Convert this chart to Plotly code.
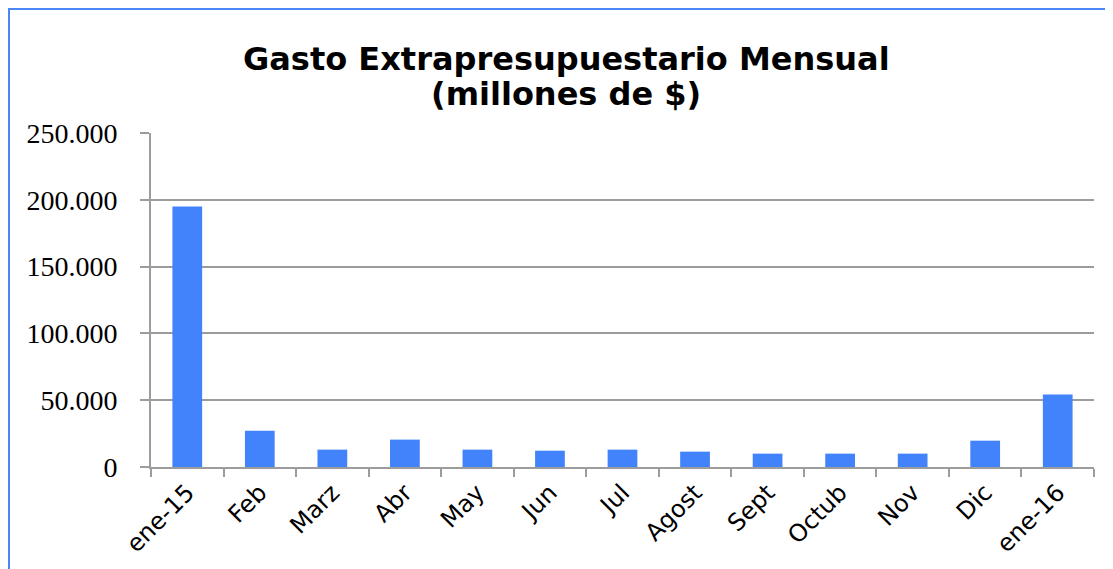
import plotly.graph_objects as go

categories = ["ene-15", "Feb", "Marz", "Abr", "May", "Jun", "Jul", "Agost", "Sept", "Octub", "Nov", "Dic", "ene-16"]
values = [195000, 27200, 13000, 20500, 13000, 12200, 13000, 11500, 10000, 10000, 10000, 19700, 54200]
y_ticks = [0, 50000, 100000, 150000, 200000, 250000]
y_tick_labels = ["0", "50.000", "100.000", "150.000", "200.000", "250.000"]
title_lines = ["Gasto Extrapresupuestario Mensual", "(millones de $)"]

# page body has an 8px margin, so the figure is drawn 8px smaller and offset
W, H = 1105, 561
L, R, T, B = 143, 19, 125, 102
pw, ph = W - L - R, H - T - B

fig = go.Figure(go.Bar(x=categories, y=values, marker=dict(color="#4283fb", line=dict(width=0))))

border = "#4a86f7"
fig.add_shape(type="line", xref="paper", yref="paper",
              x0=(0 - L) / pw, x1=(W - L) / pw, y0=1 + (T - 1) / ph, y1=1 + (T - 1) / ph,
              line=dict(color=border, width=2))
fig.add_shape(type="line", xref="paper", yref="paper",
              x0=(1 - L) / pw, x1=(1 - L) / pw, y0=1 + (T - 1) / ph, y1=-(B + 5) / ph,
              line=dict(color=border, width=2))

for i, (txt, yc) in enumerate(zip(title_lines, [51, 86])):
    fig.add_annotation(text=txt, xref="paper", yref="paper",
                       x=(558 - L) / pw, xanchor="center",
                       y=1 + (T - yc) / ph, yanchor="middle", showarrow=False,
                       font=dict(family="DejaVu Sans", size=32, color="black", weight="bold"))

fig.update_layout(
    width=W, height=H,
    margin=dict(l=L, r=R, t=T, b=B, autoexpand=False),
    paper_bgcolor="white", plot_bgcolor="white",
    bargap=0.59,
    showlegend=False,
    xaxis=dict(showline=True, linecolor="#9c9c9c", linewidth=2, automargin=False,
               ticks="outside", tickson="boundaries", ticklen=8, tickcolor="#9c9c9c", tickwidth=2,
               tickangle=-45, tickfont=dict(family="DejaVu Sans", size=24, color="black"),
               showgrid=False),
    yaxis=dict(range=[0, 250000], tickvals=y_ticks, ticktext=y_tick_labels, automargin=False,
               showline=True, linecolor="#9c9c9c", linewidth=2,
               ticks="outside", ticklen=9, tickcolor="#9c9c9c", tickwidth=2,
               showgrid=True, gridcolor="#9c9c9c", gridwidth=2, zeroline=False,
               ticklabelstandoff=17,
               tickfont=dict(family="Liberation Serif", size=28, color="black")),
)

fig.write_html("out.html")
